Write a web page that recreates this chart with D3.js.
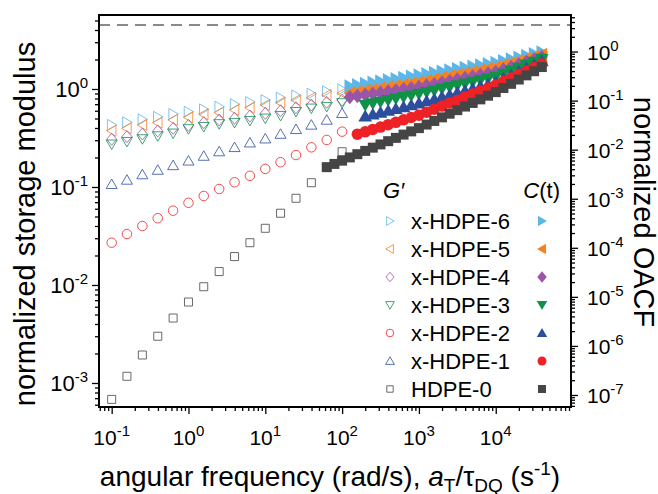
<!DOCTYPE html>
<html>
<head>
<meta charset="utf-8">
<script src="https://cdn.jsdelivr.net/npm/d3@7"></script>
<style>
  body { margin: 0; background: #fff; }
  svg text { font-family: "Liberation Sans", Arial, sans-serif; fill: #000; }
</style>
</head>
<body>
<svg id="chart" width="658" height="494"></svg>
<script>
// G' (open markers): angular frequency in rad/s
const freqG = [0.1, 0.158, 0.251, 0.398, 0.631, 1, 1.58, 2.51, 3.98, 6.31, 10, 15.8, 25.1, 39.8, 63.1, 100];
const gX6 = [0.43, 0.457, 0.49, 0.52, 0.556, 0.586, 0.62, 0.66, 0.70, 0.736, 0.77, 0.815, 0.86, 0.895, 0.947, 0.99];
const gX5 = [0.375, 0.397, 0.43, 0.453, 0.483, 0.514, 0.552, 0.573, 0.61, 0.644, 0.687, 0.725, 0.77, 0.815, 0.868, 0.904];
const gX4 = [0.307, 0.326, 0.347, 0.373, 0.397, 0.426, 0.453, 0.483, 0.502, 0.53, 0.565, 0.60, 0.644, 0.687, 0.732, 0.77];
const gX3 = [0.273, 0.29, 0.309, 0.331, 0.353, 0.391, 0.412, 0.44, 0.453, 0.475, 0.502, 0.534, 0.586, 0.635, 0.66, 0.72];
const gX2 = [0.027, 0.0331, 0.040, 0.048, 0.0573, 0.069, 0.081, 0.0954, 0.1117, 0.130, 0.153, 0.179, 0.212, 0.254, 0.302, 0.367];
const gX1 = [0.1066, 0.118, 0.134, 0.149, 0.166, 0.185, 0.207, 0.23, 0.254, 0.283, 0.311, 0.347, 0.388, 0.43, 0.483, 0.565];
const g0  = [6.8e-4, 1.17e-3, 1.93e-3, 3.0e-3, 4.6e-3, 6.7e-3, 9.6e-3, 0.0137, 0.0195, 0.027, 0.0379, 0.054, 0.0767, 0.1106, 0.159, 0.229];

// C(t) (filled markers): a_T / tau_DQ in 1/s, right axis
const tauX = [63.1, 79.4, 100, 126, 158, 200, 251, 316, 398, 501, 631, 794, 1000, 1259, 1585, 1995, 2512, 3162, 3981, 5012, 6310, 7943, 10000, 12589, 15849, 19953, 25119, 31623, 39811];
const cX6 = [null, null, null, 0.198, 0.209, 0.222, 0.235, 0.249, 0.264, 0.279, 0.295, 0.313, 0.331, 0.352, 0.372, 0.395, 0.419, 0.445, 0.472, 0.500, 0.531, 0.562, 0.597, 0.649, 0.703, 0.764, 0.830, 0.900, 0.977];
const cX5 = [null, null, null, 0.142, 0.151, 0.160, 0.169, 0.179, 0.190, 0.201, 0.213, 0.225, 0.239, 0.256, 0.275, 0.295, 0.316, 0.340, 0.365, 0.391, 0.420, 0.450, 0.483, 0.532, 0.587, 0.647, 0.715, 0.787, 0.869];
const cX4 = [null, null, null, 0.118, 0.124, 0.131, 0.138, 0.145, 0.153, 0.161, 0.170, 0.179, 0.189, 0.203, 0.217, 0.233, 0.250, 0.269, 0.288, 0.309, 0.332, 0.356, 0.382, 0.430, 0.483, 0.543, 0.611, 0.687, 0.773];
const cX3 = [null, null, null, null, null, 0.0809, 0.0871, 0.0938, 0.101, 0.109, 0.117, 0.126, 0.136, 0.147, 0.159, 0.173, 0.187, 0.202, 0.219, 0.238, 0.257, 0.279, 0.302, 0.348, 0.400, 0.460, 0.531, 0.611, 0.703];
const cX2 = [null, null, null, null, null, 0.0483, 0.0527, 0.0575, 0.0628, 0.0685, 0.0746, 0.0815, 0.0889, 0.0982, 0.108, 0.120, 0.132, 0.146, 0.161, 0.177, 0.196, 0.216, 0.239, 0.281, 0.332, 0.391, 0.460, 0.543, 0.640];
const cX1 = [null, null, null, null, 0.0207, 0.0231, 0.0259, 0.0289, 0.0324, 0.0361, 0.0405, 0.0452, 0.0506, 0.0582, 0.0670, 0.0773, 0.0889, 0.102, 0.118, 0.136, 0.156, 0.180, 0.207, 0.244, 0.288, 0.339, 0.400, 0.471, 0.556];
const c0  = [0.00440, 0.00512, 0.00597, 0.00695, 0.00809, 0.00944, 0.0110, 0.0128, 0.0149, 0.0174, 0.0203, 0.0236, 0.0275, 0.0325, 0.0385, 0.0456, 0.0541, 0.0640, 0.0757, 0.0897, 0.106, 0.126, 0.149, 0.181, 0.220, 0.269, 0.327, 0.397, 0.483];

const names = ["x-HDPE-6", "x-HDPE-5", "x-HDPE-4", "x-HDPE-3", "x-HDPE-2", "x-HDPE-1", "HDPE-0"];
const plateau = 4.5; // dashed line, left axis

const xMajor = [-1, 0, 1, 2, 3, 4];
const yLeftMajor = [-3, -2, -1, 0];
const yRightMajor = [-7, -6, -5, -4, -3, -2, -1, 0];

const colors = {
  sky: "#5db6e8", orange: "#f58220", purple: "#9a55a8", green: "#0f9247",
  blue: "#2c4e9f", red: "#ee2226", gray: "#454545"
};

// rows: G' series (open) and C(t) series (filled), as in the legend
const gSeries = [
  { name: names[0], values: gX6, shape: "triRight", color: colors.sky },
  { name: names[1], values: gX5, shape: "triLeft", color: colors.orange },
  { name: names[2], values: gX4, shape: "diamond", color: colors.purple },
  { name: names[3], values: gX3, shape: "triDown", color: colors.green },
  { name: names[4], values: gX2, shape: "circle", color: colors.red },
  { name: names[5], values: gX1, shape: "triUp", color: colors.blue },
  { name: names[6], values: g0, shape: "square", color: colors.gray }
];
const cSeries = [
  { name: names[0], values: cX6, shape: "triRight", color: colors.sky },
  { name: names[1], values: cX5, shape: "triLeft", color: colors.orange },
  { name: names[2], values: cX4, shape: "diamond", color: colors.purple },
  { name: names[3], values: cX3, shape: "triDown", color: colors.green },
  { name: names[4], values: cX2, shape: "triUp", color: colors.blue },
  { name: names[5], values: cX1, shape: "circle", color: colors.red },
  { name: names[6], values: c0, shape: "square", color: colors.gray }
];

const svg = d3.select("#chart");
const plot = { left: 99, right: 571, top: 15, bottom: 407 };

const x = d3.scaleLog().domain([Math.pow(10, -1.165), Math.pow(10, 4.98)]).range([plot.left, plot.right]);
const yL = d3.scaleLog().domain([Math.pow(10, -3.245), Math.pow(10, 0.755)]).range([plot.bottom, plot.top]);
const yR = d3.scaleLog().domain([Math.pow(10, -7.245), Math.pow(10, 0.745)]).range([plot.bottom, plot.top]);

function marker(shape, s) {
  const h = s / 2;
  switch (shape) {
    case "square": return `M${-h},${-h}h${s}v${s}h${-s}Z`;
    case "circle": return `M${h},0A${h},${h} 0 1 1 ${-h},0A${h},${h} 0 1 1 ${h},0Z`;
    case "diamond": return `M0,${-h * 1.2}L${h},0L0,${h * 1.2}L${-h},0Z`;
    case "triUp": return `M0,${-h * 1.05}L${h * 1.1},${h * 0.85}L${-h * 1.1},${h * 0.85}Z`;
    case "triDown": return `M0,${h * 1.05}L${h * 1.1},${-h * 0.85}L${-h * 1.1},${-h * 0.85}Z`;
    case "triRight": return `M${h * 1.05},0L${-h * 0.85},${h * 1.1}L${-h * 0.85},${-h * 1.1}Z`;
    case "triLeft": return `M${-h * 1.05},0L${h * 0.85},${h * 1.1}L${h * 0.85},${-h * 1.1}Z`;
  }
}
const openSize = { square: 8, circle: 9.5, diamond: 10, triUp: 10, triDown: 10, triRight: 10, triLeft: 10 };
const fillSize = { square: 10, circle: 11.5, diamond: 12, triUp: 12.5, triDown: 12.5, triRight: 12.5, triLeft: 12.5 };
const legFill = { square: 8, circle: 9, diamond: 9.5, triUp: 9.5, triDown: 9.5, triRight: 9.5, triLeft: 9.5 };

// dashed plateau line
svg.append("line")
  .attr("x1", plot.left).attr("x2", plot.right)
  .attr("y1", yL(plateau)).attr("y2", yL(plateau))
  .attr("stroke", "#8a8a8a").attr("stroke-width", 2)
  .attr("stroke-dasharray", "11,7");

// G' open markers
gSeries.forEach(s => {
  svg.append("g").selectAll("path")
    .data(s.values.map((v, i) => [freqG[i], v]))
    .join("path")
      .attr("transform", d => `translate(${x(d[0])},${yL(d[1])})`)
      .attr("d", marker(s.shape, openSize[s.shape]))
      .attr("fill", "none")
      .attr("stroke", s.color)
      .attr("stroke-opacity", 0.8)
      .attr("stroke-width", 1);
});

// C(t) filled markers
cSeries.forEach(s => {
  svg.append("g").selectAll("path")
    .data(s.values.map((v, i) => [tauX[i], v]).filter(d => d[1] != null))
    .join("path")
      .attr("transform", d => `translate(${x(d[0])},${yR(d[1])})`)
      .attr("d", marker(s.shape, fillSize[s.shape]))
      .attr("fill", s.color);
});

function minorTicks(scale) {
  const [a, b] = scale.domain();
  const out = [];
  for (let e = Math.floor(Math.log10(a)); e <= Math.ceil(Math.log10(b)); e++)
    for (let m = 2; m <= 9; m++) {
      const v = m * Math.pow(10, e);
      if (v >= a && v <= b) out.push(v);
    }
  return out;
}

function styleAxis(g) {
  g.select(".domain").remove();
  g.selectAll(".tick line").attr("stroke", "#000").attr("stroke-width", 1.3);
}

function powLabel(sel, e) {
  sel.append("tspan").text("10");
  sel.append("tspan").attr("dy", -9).attr("font-size", 15).text(e);
}

// bottom axis
svg.append("g").attr("transform", `translate(0,${plot.bottom})`)
  .call(d3.axisBottom(x).tickValues(minorTicks(x)).tickSize(4).tickFormat(""))
  .call(styleAxis);
svg.append("g").attr("transform", `translate(0,${plot.bottom})`)
  .call(d3.axisBottom(x).tickValues(xMajor.map(e => Math.pow(10, e))).tickSize(7).tickFormat(""))
  .call(styleAxis);
xMajor.forEach(e => {
  svg.append("text").attr("x", x(Math.pow(10, e))).attr("y", 445)
    .attr("text-anchor", "middle").attr("font-size", 21)
    .call(powLabel, e);
});

// left axis
svg.append("g").attr("transform", `translate(${plot.left},0)`)
  .call(d3.axisLeft(yL).tickValues(minorTicks(yL)).tickSize(4).tickFormat(""))
  .call(styleAxis);
svg.append("g").attr("transform", `translate(${plot.left},0)`)
  .call(d3.axisLeft(yL).tickValues(yLeftMajor.map(e => Math.pow(10, e))).tickSize(7).tickFormat(""))
  .call(styleAxis);
yLeftMajor.forEach(e => {
  svg.append("text").attr("x", 88).attr("y", yL(Math.pow(10, e)) + 8)
    .attr("text-anchor", "end").attr("font-size", 22)
    .call(powLabel, e);
});

// right axis
svg.append("g").attr("transform", `translate(${plot.right},0)`)
  .call(d3.axisRight(yR).tickValues(minorTicks(yR)).tickSize(4).tickFormat(""))
  .call(styleAxis);
svg.append("g").attr("transform", `translate(${plot.right},0)`)
  .call(d3.axisRight(yR).tickValues(yRightMajor.map(e => Math.pow(10, e))).tickSize(7).tickFormat(""))
  .call(styleAxis);
yRightMajor.forEach(e => {
  svg.append("text").attr("x", 587).attr("y", yR(Math.pow(10, e)) + 8)
    .attr("text-anchor", "start").attr("font-size", 21)
    .call(powLabel, e);
});

// frame
svg.append("rect")
  .attr("x", plot.left).attr("y", plot.top)
  .attr("width", plot.right - plot.left).attr("height", plot.bottom - plot.top)
  .attr("fill", "none").attr("stroke", "#000").attr("stroke-width", 2);

// axis titles
svg.append("text")
  .attr("transform", "translate(35,224) rotate(-90)")
  .attr("text-anchor", "middle").attr("font-size", 29)
  .text("normalized storage modulus");

svg.append("text")
  .attr("transform", "translate(634,212) rotate(90)")
  .attr("text-anchor", "middle").attr("font-size", 29)
  .text("normalized OACF");

const xt = svg.append("text")
  .attr("x", 330).attr("y", 486)
  .attr("text-anchor", "middle").attr("font-size", 28);
xt.append("tspan").text("angular frequency (rad/s), ");
xt.append("tspan").attr("font-style", "italic").text("a");
xt.append("tspan").attr("font-size", 19).attr("dy", 6).text("T");
xt.append("tspan").attr("dy", -6).text("/\u03c4");
xt.append("tspan").attr("font-size", 19).attr("dy", 6).text("DQ");
xt.append("tspan").attr("dy", -6).text(" (s");
xt.append("tspan").attr("font-size", 19).attr("dy", -11).text("-1");
xt.append("tspan").attr("dy", 11).text(")");

// legend
const legY = [221, 249, 277, 305, 333, 361, 389];
const lg = svg.append("g");
lg.append("text").attr("x", 383).attr("y", 198).attr("font-size", 22)
  .attr("font-style", "italic").text("G\u2032");
const ct = lg.append("text").attr("x", 560).attr("y", 198).attr("font-size", 22)
  .attr("text-anchor", "end");
ct.append("tspan").attr("font-style", "italic").text("C");
ct.append("tspan").text("(t)");

gSeries.forEach((s, i) => {
  lg.append("path")
    .attr("transform", `translate(390,${legY[i]})`)
    .attr("d", marker(s.shape, openSize[s.shape] * 0.8))
    .attr("fill", "none").attr("stroke", s.color).attr("stroke-opacity", 0.8).attr("stroke-width", 1);
  lg.append("text").attr("x", 411).attr("y", legY[i] + 8).attr("font-size", 22).text(s.name);
  const c = cSeries[i];
  lg.append("path")
    .attr("transform", `translate(542,${legY[i]})`)
    .attr("d", marker(c.shape, legFill[c.shape]))
    .attr("fill", c.color);
});
</script>
</body>
</html>
